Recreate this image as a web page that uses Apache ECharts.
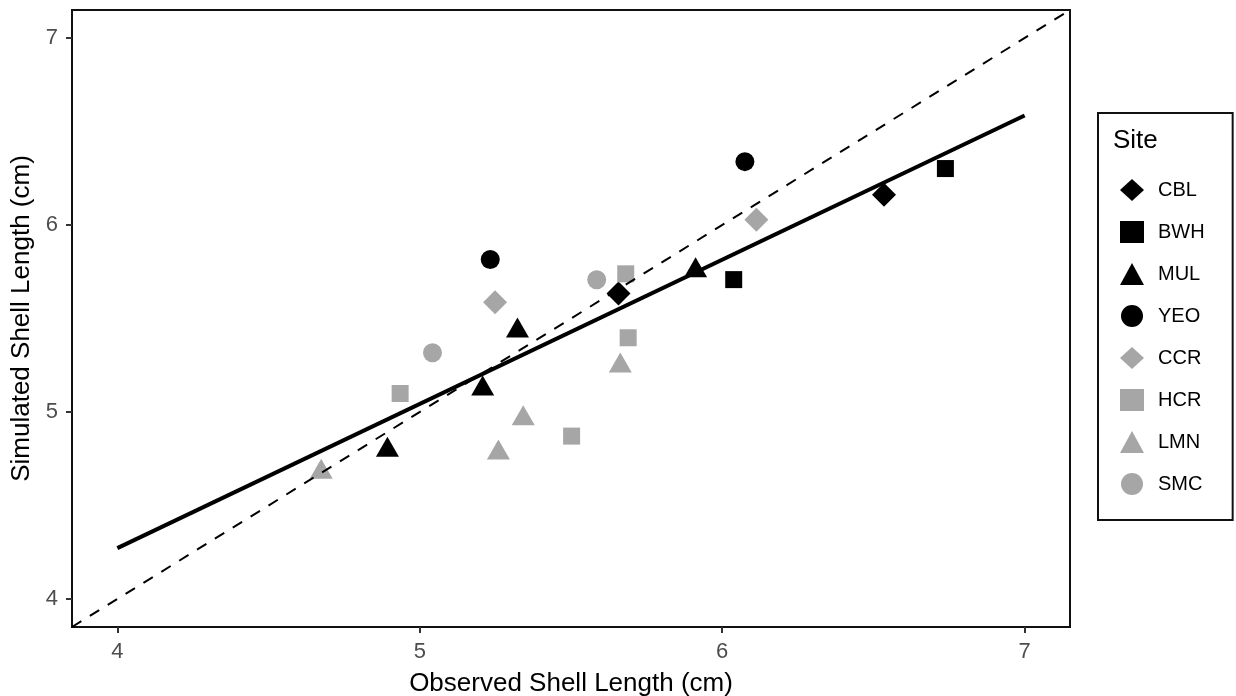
<!DOCTYPE html>
<html>
<head>
<meta charset="utf-8">
<title>Observed vs Simulated Shell Length</title>
<script src="https://cdn.jsdelivr.net/npm/echarts@6/dist/echarts.min.js"></script>
<style>
  html, body { margin: 0; padding: 0; background: #fff; }
  #chart { width: 1236px; height: 696px; }
</style>
</head>
<body>
<div id="chart"></div>
<script>
// Sites in legend order
const siteNames = ['CBL', 'BWH', 'MUL', 'YEO', 'CCR', 'HCR', 'LMN', 'SMC'];

// [observed, simulated] shell length (cm) for each site
const siteCBL = [[5.657, 5.634], [6.535, 6.162]];
const siteBWH = [[6.038, 5.708], [6.738, 6.302]];
const siteMUL = [[4.893, 4.814], [5.208, 5.141], [5.323, 5.452], [5.912, 5.774]];
const siteYEO = [[5.233, 5.816], [6.075, 6.339]];
const siteCCR = [[5.249, 5.587], [6.113, 6.028]];
const siteHCR = [[4.935, 5.099], [5.502, 4.871], [5.689, 5.397], [5.681, 5.739]];
const siteLMN = [[4.674, 4.697], [5.260, 4.800], [5.342, 4.983], [5.663, 5.265]];
const siteSMC = [[5.042, 5.317], [5.585, 5.707]];

// Fitted regression line end points and the 1:1 reference line
const fitX = [4, 7];
const fitY = [4.272, 6.586];
const oneToOne = [3.85, 7.15];

// Axis ticks
const tickValues = [4, 5, 6, 7];

const siteData = {
  CBL: siteCBL, BWH: siteBWH, MUL: siteMUL, YEO: siteYEO,
  CCR: siteCCR, HCR: siteHCR, LMN: siteLMN, SMC: siteSMC
};

const BLACK = '#000000';
const GREY = '#a6a6a6';
const siteStyle = {
  CBL: { symbol: 'diamond',  size: [24, 24], color: BLACK },
  BWH: { symbol: 'rect',     size: [17, 17], color: BLACK },
  MUL: { symbol: 'triangle', size: [23, 20], color: BLACK },
  YEO: { symbol: 'circle',   size: [19, 19], color: BLACK },
  CCR: { symbol: 'diamond',  size: [24, 24], color: GREY },
  HCR: { symbol: 'rect',     size: [17, 17], color: GREY },
  LMN: { symbol: 'triangle', size: [23, 20], color: GREY },
  SMC: { symbol: 'circle',   size: [19, 19], color: GREY }
};

const FONT = '"Liberation Sans", Arial, Helvetica, sans-serif';

const scatterSeries = siteNames.map(function (name) {
  const st = siteStyle[name];
  return {
    name: name,
    type: 'scatter',
    data: siteData[name],
    symbol: st.symbol,
    symbolSize: st.size,
    itemStyle: { color: st.color, opacity: 1 },
    emphasis: { disabled: true },
    z: 2
  };
});

const lineSeries = [
  {
    name: 'fit',
    type: 'line',
    data: fitX.map(function (x, i) { return [x, fitY[i]]; }),
    showSymbol: false,
    symbol: 'none',
    lineStyle: { color: BLACK, width: 4, cap: 'butt' },
    emphasis: { disabled: true },
    silent: true,
    z: 3
  },
  {
    name: 'one-to-one',
    type: 'line',
    data: [[oneToOne[0], oneToOne[0]], [oneToOne[1], oneToOne[1]]],
    showSymbol: false,
    symbol: 'none',
    lineStyle: { color: BLACK, width: 2, type: [11, 10], cap: 'butt' },
    emphasis: { disabled: true },
    silent: true,
    z: 3
  }
];

const chart = echarts.init(document.getElementById('chart'), null, { renderer: 'canvas' });

chart.setOption({
  animation: false,
  backgroundColor: '#ffffff',
  textStyle: { fontFamily: FONT },
  grid: {
    left: 72, top: 10, right: 166, bottom: 69,
    outerBoundsMode: 'none',
    containLabel: false,
    show: true, borderColor: '#111111', borderWidth: 2,
    backgroundColor: '#ffffff'
  },
  xAxis: {
    type: 'value',
    min: 3.85, max: 7.15,
    splitLine: { show: false },
    axisLine: { show: false, onZero: false },
    axisTick: {
      show: true, customValues: tickValues, length: 6, inside: false,
      lineStyle: { color: '#333333', width: 2 }
    },
    axisLabel: {
      customValues: tickValues, color: '#4d4d4d', fontSize: 22,
      fontFamily: FONT, margin: 14
    },
    name: 'Observed Shell Length (cm)',
    nameLocation: 'middle',
    nameGap: 44,
    nameTextStyle: { color: '#000', fontSize: 26, fontFamily: FONT }
  },
  yAxis: {
    type: 'value',
    min: 3.85, max: 7.15,
    splitLine: { show: false },
    axisLine: { show: false, onZero: false },
    axisTick: {
      show: true, customValues: tickValues, length: 6, inside: false,
      lineStyle: { color: '#333333', width: 2 }
    },
    axisLabel: {
      customValues: tickValues, color: '#4d4d4d', fontSize: 22,
      fontFamily: FONT, margin: 14
    },
    name: 'Simulated Shell Length (cm)',
    nameLocation: 'middle',
    nameGap: 37,
    nameRotate: 90,
    nameTextStyle: { color: '#000', fontSize: 26, fontFamily: FONT }
  },
  legend: {
    data: siteNames,
    orient: 'vertical',
    left: 1098,
    top: 113,
    padding: [66, 28, 25, 22],
    itemGap: 20,
    itemWidth: 24,
    itemHeight: 22,
    borderColor: '#111111',
    borderWidth: 2,
    selectedMode: false,
    textStyle: { color: '#000', fontSize: 20, fontFamily: FONT, padding: [0, 0, 0, 9] }
  },
  graphic: [
    {
      type: 'text',
      left: 1113,
      top: 128,
      silent: true,
      style: { text: 'Site', fill: '#000', font: '26px ' + FONT }
    }
  ],
  series: scatterSeries.concat(lineSeries)
});
</script>
</body>
</html>
